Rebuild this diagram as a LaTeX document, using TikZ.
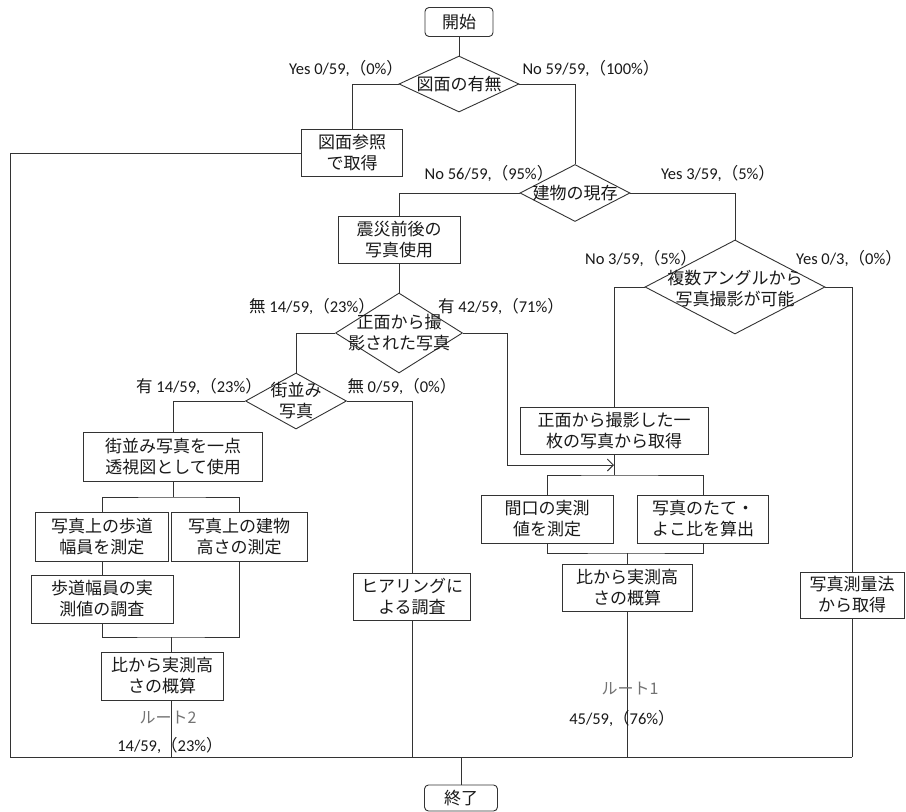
\documentclass[tikz,border=0pt]{standalone}
\usepackage{fontspec}
\setmainfont{Carlito}
\newfontfamily\jp{Noto Sans CJK JP}
\usetikzlibrary{shapes.geometric,arrows.meta}
\newcommand\pp[1]{{\jp （}#1{\jp ）}}
\begin{document}
\begin{tikzpicture}[x=1pt,y=-1pt,
  line/.style={draw=black!80,line width=0.9pt},
  wh/.style 2 args={minimum width=#1pt,minimum height=#2pt},
  box/.style={draw=black!80,line width=0.9pt,rectangle,align=center,inner sep=0pt,
    font=\jp\fontsize{17}{21}\selectfont,text=black!90},
  dia/.style={draw=black!80,line width=0.9pt,diamond,inner sep=0pt},
  dtext/.style={align=center,inner sep=0pt,font=\jp\fontsize{17}{21}\selectfont,text=black!90},
  lab/.style={inner sep=0pt,font=\fontsize{16.5}{19}\selectfont,text=black!90},
  route/.style={inner sep=0pt,font=\jp\fontsize{16}{19}\selectfont,text=black!55}]
\useasboundingbox (0,0) rectangle (906,812);
\fill[white] (0,0) rectangle (906,812);

% nodes
\node[box,rounded corners=4pt,wh={68}{29}] (start) at (459,22) {開始};
\node[dia,wh={120}{56}] (d1) at (459,84) {};
\node[dtext] (t1) at (d1) {図面の有無};
\node[box,wh={101}{47}] (b1) at (352,153) {図面参照\\で取得};
\node[dia,wh={110}{57}] (d2) at (575,193) {};
\node[dtext] (t2) at (d2) {建物の現存};
\node[box,wh={122}{47}] (b2) at (399,240) {震災前後の\\写真使用};
\node[dia,wh={127}{80}] (d3) at (399,333) {};
\node[dtext] (t3) at (d3) {正面から撮\\影された写真};
\node[dia,wh={101}{56}] (d4) at (296,401) {};
\node[dtext] (t4) at (d4) {街並み\\写真};
\node[box,wh={179}{49}] (b3) at (173,457) {街並み写真を一点\\透視図として使用};
\node[box,wh={133}{49}] (b4) at (102,537) {写真上の歩道\\幅員を測定};
\node[box,wh={136}{49}] (b5) at (239,537) {写真上の建物\\高さの測定};
\node[box,wh={142}{48}] (b6) at (102,599) {歩道幅員の実\\測値の調査};
\node[box,wh={122}{48}] (b7) at (162,676) {比から実測高\\さの概算};
\node[box,wh={117}{47}] (b8) at (412,597) {ヒアリングに\\よる調査};
\node[dia,wh={180}{94}] (d5) at (735,287) {};
\node[dtext] (t5) at ([yshift=-2pt]d5.center) {複数アングルから\\写真撮影が可能};
\node[box,wh={188}{47}] (b9) at (614,431) {正面から撮影した一\\枚の写真から取得};
\node[box,wh={132}{48}] (b10) at (547,519) {間口の実測\\値を測定};
\node[box,wh={131}{48}] (b11) at (703,519) {写真のたて・\\よこ比を算出};
\node[box,wh={130}{47}] (b12) at (627,588) {比から実測高\\さの概算};
\node[box,wh={104}{46}] (b13) at (852,595) {写真測量法\\から取得};
\node[box,rounded corners=4pt,wh={73}{26}] (end) at (461,798) {終了};

% coordinates
\coordinate (bl) at (10,757);
\coordinate (br) at (852,757);
\coordinate (e1) at (461,757);
\coordinate (k1) at (507,465);
\coordinate (ar) at (614,465);
\coordinate (s1) at (173,497);
\coordinate (m1) at (171,637);
\coordinate (s2) at (614,475);
\coordinate (m2) at (627,553);

% connectors
\draw[line] (start.south) -- (d1.north);
\draw[line] (d1.west) -| (b1.north);
\draw[line] (d1.east) -| (d2.north);
\draw[line] (b1.west) -| (bl);
\draw[line] (d2.west) -| (b2.north);
\draw[line] (d2.east) -| (d5.north);
\draw[line] (b2.south) -- (d3.north);
\draw[line] (d3.west) -| (d4.north);
\draw[line,-{Straight Barb[length=6pt,width=12pt]}] (d3.east) -| (k1) -- (ar);
\draw[line] (d4.west) -| (b3.north);
\draw[line] (d4.east) -| (b8.north);
\draw[line] (b3.south) -- (s1);
\draw[line] (b4.north) |- (s1) -| (b5.north);
\draw[line] (b4.south) -- (b6.north);
\draw[line] (b6.south) |- (m1) -| (b5.south);
\draw[line] (m1) -- (m1 |- b7.north);
\draw[line] (m1 |- b7.south) -- (m1 |- bl);
\draw[line] (b8.south) -- (b8.south |- bl);
\draw[line] (d5.west) -| (b9.north);
\draw[line] (d5.east) -| (b13.north);
\draw[line] (b9.south) -- (s2);
\draw[line] (b10.north) |- (s2) -| (b11.north);
\draw[line] (b10.south) |- (m2) -| (b11.south);
\draw[line] (m2) -- (b12.north);
\draw[line] (b12.south) -- (b12.south |- bl);
\draw[line] (b13.south) -- (br);
\draw[line] (bl) -- (br);
\draw[line] (e1) -- (end.north);

% labels
\node[lab] (l1) at (346,68) {Yes 0/59,\pp{0\%}};
\node[lab] (l2) at (591,68) {No 59/59,\pp{100\%}};
\node[lab] (l3) at (489,173) {No 56/59,\pp{95\%}};
\node[lab] (l4) at (718,173) {Yes 3/59,\pp{5\%}};
\node[lab] (l5) at (312,306) {{\jp 無} 14/59,\pp{23\%}};
\node[lab] (l6) at (501,306) {{\jp 有} 42/59,\pp{71\%}};
\node[lab] (l7) at (199,386) {{\jp 有} 14/59,\pp{23\%}};
\node[lab] (l8) at (402,386) {{\jp 無} 0/59,\pp{0\%}};
\node[lab] (l9) at (641,258) {No 3/59,\pp{5\%}};
\node[lab] (l10) at (849,258) {Yes 0/3,\pp{0\%}};
\node[route] (r2) at (168,718) {ルート2};
\node[lab] (r2n) at (170,745) {14/59,\pp{23\%}};
\node[route] (r1) at (630,689) {ルート1};
\node[lab] (r1n) at (622,718) {45/59,\pp{76\%}};
\end{tikzpicture}
\end{document}
